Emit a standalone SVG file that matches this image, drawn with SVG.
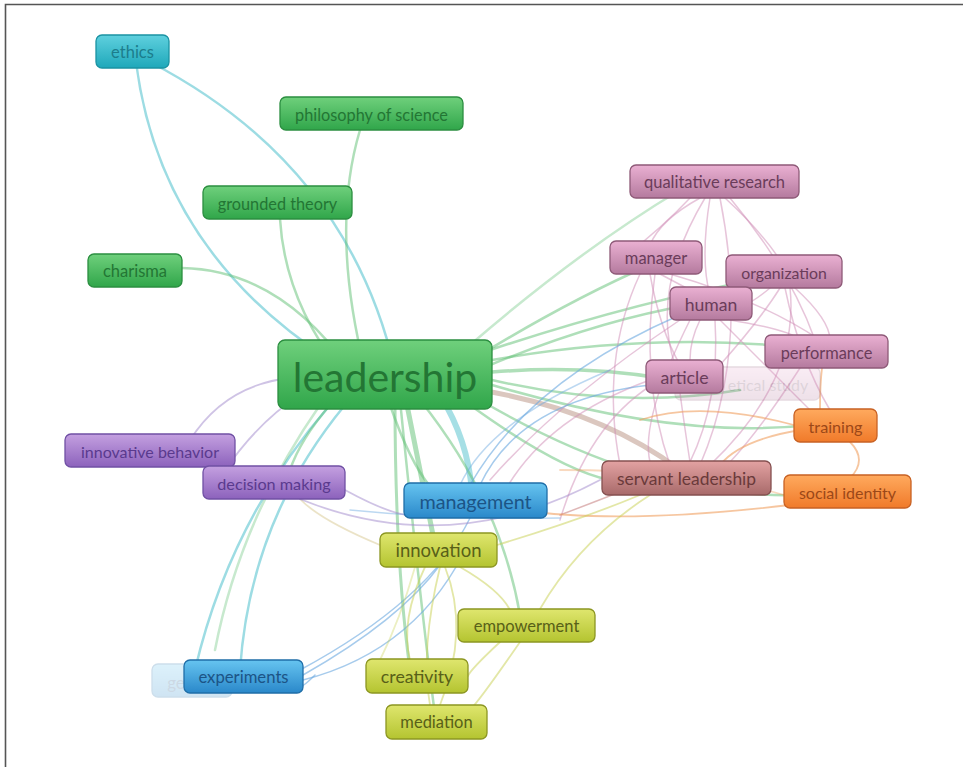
<svg xmlns="http://www.w3.org/2000/svg" width="963" height="767" viewBox="0 0 963 767">
<defs>
<linearGradient id="gTeal" x1="0" y1="0" x2="0" y2="1"><stop offset="0" stop-color="#5fd0de"/><stop offset="1" stop-color="#1ea8ba"/></linearGradient>
<linearGradient id="gGreen" x1="0" y1="0" x2="0" y2="1"><stop offset="0" stop-color="#6fd07c"/><stop offset="1" stop-color="#30a64a"/></linearGradient>
<linearGradient id="gPink" x1="0" y1="0" x2="0" y2="1"><stop offset="0" stop-color="#eab0d2"/><stop offset="1" stop-color="#b47a9e"/></linearGradient>
<linearGradient id="gOrange" x1="0" y1="0" x2="0" y2="1"><stop offset="0" stop-color="#ffaa5e"/><stop offset="1" stop-color="#f07a2a"/></linearGradient>
<linearGradient id="gBrown" x1="0" y1="0" x2="0" y2="1"><stop offset="0" stop-color="#e3a2a2"/><stop offset="1" stop-color="#a86a6a"/></linearGradient>
<linearGradient id="gPurple" x1="0" y1="0" x2="0" y2="1"><stop offset="0" stop-color="#c4a0e0"/><stop offset="1" stop-color="#8c62bc"/></linearGradient>
<linearGradient id="gBlue" x1="0" y1="0" x2="0" y2="1"><stop offset="0" stop-color="#66c4f0"/><stop offset="1" stop-color="#2a88ca"/></linearGradient>
<linearGradient id="gYellow" x1="0" y1="0" x2="0" y2="1"><stop offset="0" stop-color="#dfe66e"/><stop offset="1" stop-color="#b4c430"/></linearGradient>
</defs>
<style>
text{font-family:Lato,"Open Sans","Liberation Sans",sans-serif;text-anchor:middle;dominant-baseline:central}
.n rect{stroke-width:1.3}
.teal rect{fill:url(#gTeal);stroke:#1b93a3}.teal text{fill:#1c7d8c}
.green rect{fill:url(#gGreen);stroke:#2b8e40}.green text{fill:#237634}
.pink rect{fill:url(#gPink);stroke:#8e5a78}.pink text{fill:#6a3c5a}
.orange rect{fill:url(#gOrange);stroke:#c86224}.orange text{fill:#9c4818}
.brown rect{fill:url(#gBrown);stroke:#855050}.brown text{fill:#6a3a3a}
.purple rect{fill:url(#gPurple);stroke:#7050a4}.purple text{fill:#5a3a8e}
.blue rect{fill:url(#gBlue);stroke:#1f6ea8}.blue text{fill:#1c5486}
.yellow rect{fill:url(#gYellow);stroke:#8c9622}.yellow text{fill:#586018}
.faded{opacity:0.22}
#edges path{fill:none;stroke-linecap:round}
.eg{stroke:#5fbf74;stroke-opacity:0.5;stroke-width:2.5}
.et{stroke:#5cc4d0;stroke-opacity:0.6;stroke-width:2.5}
.ep{stroke:#d08cb6;stroke-opacity:0.5;stroke-width:1.5}
.eo{stroke:#f0a060;stroke-opacity:0.6;stroke-width:1.8}
.eb{stroke:#6aa8e0;stroke-opacity:0.6;stroke-width:1.5}
.ey{stroke:#c8d050;stroke-opacity:0.5;stroke-width:1.8}
.eu{stroke:#a088cc;stroke-opacity:0.5;stroke-width:1.8}
.er{stroke:#b89080;stroke-opacity:0.5;stroke-width:2}
</style>
<rect x="0" y="0" width="963" height="767" fill="#ffffff"/>
<path d="M5.5 767 V4.5 H963" fill="none" stroke="#555555" stroke-width="1.6"/>
<g id="edges">
<path class="et" d="M136 62 Q160 250 330 360"/>
<path class="et" d="M150 62 Q348 165 395 370"/>
<path class="eg" d="M360 130 Q330 230 365 370"/>
<path class="eg" d="M280 219 Q285 300 340 370"/>
<path class="eg" d="M182 268 Q280 270 350 370"/>
<path class="eu" d="M190 440 Q225 385 290 378"/>
<path class="eu" d="M225 470 Q260 420 300 395"/>
<path class="et" d="M440 395 Q468 440 472 492" style="stroke-width:6;stroke-opacity:0.55"/>
<path class="eg" d="M405 395 Q420 470 435 545" style="stroke-width:5"/>
<path class="eg" d="M395 400 Q395 560 410 670" style="stroke-width:3"/>
<path class="eg" d="M400 400 Q420 600 435 715"/>
<path class="eg" d="M420 400 Q500 500 520 615"/>
<path class="eg" d="M390 405 Q430 520 470 500"/>
<path class="et" d="M330 405 Q230 520 195 670"/>
<path class="et" d="M345 405 Q250 520 240 670"/>
<path class="eg" d="M320 405 Q240 520 215 650" style="stroke-opacity:0.35"/>
<path class="eg" d="M330 405 Q300 440 290 470"/>
<path class="eg" d="M480 355 Q570 300 650 265"/>
<path class="eg" d="M470 345 Q580 250 680 190" style="stroke-opacity:0.35"/>
<path class="eg" d="M490 365 Q600 320 690 305"/>
<path class="eg" d="M490 350 Q640 300 780 275"/>
<path class="eg" d="M492 372 Q580 365 660 378" style="stroke-width:3.5"/>
<path class="eg" d="M492 360 Q660 330 820 350"/>
<path class="eg" d="M492 380 Q620 410 740 390"/>
<path class="er" d="M480 390 Q600 410 680 470" style="stroke-width:5"/>
<path class="eg" d="M492 385 Q680 440 810 425"/>
<path class="eg" d="M480 400 Q650 500 800 495"/>
<path class="eg" d="M470 405 Q560 470 610 480"/>
<path class="ep" d="M700 198 Q660 220 650 245"/>
<path class="ep" d="M710 198 Q700 260 710 295"/>
<path class="ep" d="M725 198 Q760 230 780 260"/>
<path class="ep" d="M705 198 Q650 290 675 365"/>
<path class="ep" d="M720 198 Q750 350 700 465"/>
<path class="ep" d="M730 198 Q790 270 815 340"/>
<path class="ep" d="M690 198 Q660 230 620 260"/>
<path class="ep" d="M660 274 Q690 290 700 295"/>
<path class="ep" d="M650 274 Q660 330 680 365"/>
<path class="ep" d="M655 274 Q640 380 670 465"/>
<path class="ep" d="M670 274 Q760 300 820 340"/>
<path class="ep" d="M640 274 Q600 360 620 465"/>
<path class="ep" d="M780 288 Q760 320 720 365"/>
<path class="ep" d="M790 288 Q800 380 710 465"/>
<path class="ep" d="M770 288 Q720 330 690 300"/>
<path class="ep" d="M795 288 Q830 320 830 340"/>
<path class="ep" d="M785 288 Q800 360 830 410"/>
<path class="ep" d="M700 320 Q690 340 690 360"/>
<path class="ep" d="M715 320 Q720 400 690 462"/>
<path class="ep" d="M720 320 Q780 380 810 410"/>
<path class="ep" d="M730 320 Q790 330 800 340"/>
<path class="ep" d="M690 320 Q640 420 650 462"/>
<path class="ep" d="M680 393 Q685 430 690 462"/>
<path class="ep" d="M800 368 Q760 430 730 462"/>
<path class="ep" d="M660 380 Q590 420 560 520"/>
<path class="ep" d="M680 320 Q560 400 490 480"/>
<path class="ep" d="M650 480 Q600 500 560 515" style="stroke:#c07070"/>
<path class="ep" d="M650 380 Q540 420 500 500"/>
<path class="eo" d="M850 442 Q868 460 850 478"/>
<path class="eo" d="M800 430 Q740 440 720 465"/>
<path class="eo" d="M820 410 Q820 385 822 368"/>
<path class="eo" d="M794 425 Q700 400 640 420"/>
<path class="eo" d="M790 505 Q620 525 520 510"/>
<path class="eo" d="M784 495 Q700 470 560 470" style="stroke-opacity:0.4"/>
<path class="eb" d="M480 485 Q520 400 650 385"/>
<path class="eb" d="M470 485 Q530 380 680 315"/>
<path class="eb" d="M460 485 Q490 420 610 370" style="stroke-opacity:0.45"/>
<path class="eb" d="M303 675 Q400 620 440 565"/>
<path class="eb" d="M303 680 Q420 650 470 540"/>
<path class="eb" d="M300 670 Q430 600 470 518"/>
<path class="eb" d="M315 675 Q300 690 300 685"/>
<path class="eb" d="M350 510 Q450 520 560 518" style="stroke-opacity:0.45"/>
<path class="ey" d="M460 567 Q500 590 510 610"/>
<path class="ey" d="M425 567 Q400 620 410 660"/>
<path class="ey" d="M440 567 Q420 650 430 705"/>
<path class="ey" d="M445 567 Q470 630 440 705"/>
<path class="ey" d="M500 642 Q470 670 468 676"/>
<path class="ey" d="M520 642 Q480 700 470 710"/>
<path class="ey" d="M497 545 Q580 520 640 495"/>
<path class="ey" d="M540 609 Q580 540 650 495"/>
<path class="ey" d="M380 545 Q320 520 300 499" style="stroke:#d8c890"/>
<path class="ey" d="M415 567 Q400 620 380 660" style="stroke-opacity:0.35"/>
<path class="eu" d="M345 490 Q400 520 420 515"/>
<path class="eu" d="M300 499 Q450 560 600 480"/>
</g>
<g id="n-ge" class="n blue faded"><rect x="152" y="664" width="80" height="33" rx="6"/><text x="176" y="682" font-size="17">ge</text></g>
<g id="n-theoretical" class="n pink faded"><rect x="675" y="367" width="145" height="33" rx="6"/><text x="768" y="384" font-size="16">etical study</text></g>
<g id="n-ethics" class="n teal"><rect x="96" y="35" width="73" height="33" rx="6"/><text x="132.5" y="52" font-size="16.5">ethics</text></g>
<g id="n-philosophy" class="n green"><rect x="280" y="97" width="183" height="33" rx="6"/><text x="371.5" y="114" font-size="16.3">philosophy of science</text></g>
<g id="n-grounded" class="n green"><rect x="203" y="186" width="149" height="33" rx="6"/><text x="277.5" y="203" font-size="16.3">grounded theory</text></g>
<g id="n-charisma" class="n green"><rect x="88" y="254" width="94" height="33" rx="6"/><text x="135" y="271" font-size="16.5">charisma</text></g>
<g id="n-qualitative" class="n pink"><rect x="630" y="165" width="169" height="33" rx="6"/><text x="714.5" y="182" font-size="16.5">qualitative research</text></g>
<g id="n-manager" class="n pink"><rect x="610" y="241" width="92" height="33" rx="6"/><text x="656" y="258" font-size="16.5">manager</text></g>
<g id="n-organization" class="n pink"><rect x="726" y="255" width="116" height="33" rx="6"/><text x="784" y="272" font-size="15.8">organization</text></g>
<g id="n-human" class="n pink"><rect x="670" y="287" width="82" height="33" rx="6"/><text x="711" y="304" font-size="17.6">human</text></g>
<g id="n-performance" class="n pink"><rect x="765" y="335" width="123" height="33" rx="6"/><text x="826.5" y="352" font-size="16.4">performance</text></g>
<g id="n-article" class="n pink"><rect x="646" y="360" width="77" height="33" rx="6"/><text x="684.5" y="377" font-size="17.7">article</text></g>
<g id="n-training" class="n orange"><rect x="794" y="409" width="83" height="33" rx="6"/><text x="835.5" y="426" font-size="16.2">training</text></g>
<g id="n-social" class="n orange"><rect x="784" y="475" width="127" height="33" rx="6"/><text x="847.5" y="492" font-size="16">social identity</text></g>
<g id="n-servant" class="n brown"><rect x="602" y="461" width="169" height="34" rx="6"/><text x="686.5" y="478" font-size="17.4">servant leadership</text></g>
<g id="n-innovative" class="n purple"><rect x="65" y="434" width="170" height="33" rx="6"/><text x="150" y="451" font-size="16">innovative behavior</text></g>
<g id="n-decision" class="n purple"><rect x="203" y="466" width="142" height="33" rx="6"/><text x="274" y="483" font-size="16.2">decision making</text></g>
<g id="n-experiments" class="n blue"><rect x="184" y="660" width="119" height="33" rx="6"/><text x="243.5" y="677" font-size="16.7">experiments</text></g>
<g id="n-management" class="n blue"><rect x="404" y="483" width="143" height="35" rx="6"/><text x="475.5" y="501" font-size="19.8">management</text></g>
<g id="n-innovation" class="n yellow"><rect x="380" y="533" width="117" height="34" rx="6"/><text x="438.5" y="550" font-size="18.5">innovation</text></g>
<g id="n-empowerment" class="n yellow"><rect x="458" y="609" width="137" height="33" rx="6"/><text x="526.5" y="626" font-size="16.5">empowerment</text></g>
<g id="n-creativity" class="n yellow"><rect x="366" y="659" width="102" height="34" rx="6"/><text x="417" y="676" font-size="17.7">creativity</text></g>
<g id="n-mediation" class="n yellow"><rect x="386" y="705" width="101" height="34" rx="6"/><text x="436.5" y="722" font-size="16.5">mediation</text></g>
<g id="n-leadership" class="n green"><rect x="278" y="340" width="214" height="69" rx="7"/><text x="385" y="376" font-size="41">leadership</text></g>
</svg>
